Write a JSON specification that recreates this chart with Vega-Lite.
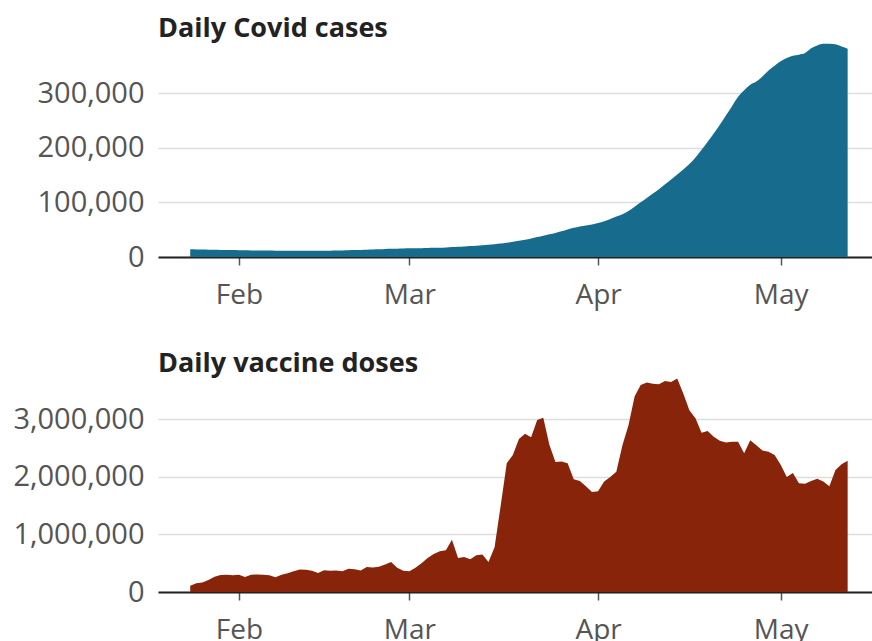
{
  "$schema": "https://vega.github.io/schema/vega-lite/v6.json",
  "padding": {"left": 12, "top": 15, "right": 0, "bottom": 0},
  "background": "white",
  "spacing": 41,
  "config": {
    "font": "Open Sans",
    "view": {"stroke": null},
    "title": {"font": "Open Sans", "fontSize": 27, "fontWeight": "bold", "color": "#222222", "anchor": "start", "frame": "group"},
    "axisY": {"domain": false, "ticks": false, "labelFont": "Open Sans", "labelFontSize": 29, "labelColor": "#555555", "labelPadding": 14, "gridColor": "#dddddd", "gridWidth": 1.3, "title": null},
    "axisX": {"grid": false, "domainColor": "#222222", "domainWidth": 2, "tickColor": "#555555", "tickSize": 8, "tickWidth": 1.5, "labelFont": "Open Sans", "labelFontSize": 28, "labelColor": "#555555", "labelPadding": 16, "title": null}
  },
  "datasets": {
    "cases": [
      {"date": "2021-01-24", "v": 14000}, {"date": "2021-01-25", "v": 13800}, {"date": "2021-01-26", "v": 13600}, {"date": "2021-01-27", "v": 13400}, {"date": "2021-01-28", "v": 13200}, {"date": "2021-01-29", "v": 13000}, {"date": "2021-01-30", "v": 12900}, {"date": "2021-01-31", "v": 12600},
      {"date": "2021-02-01", "v": 12400}, {"date": "2021-02-02", "v": 12200}, {"date": "2021-02-03", "v": 12000}, {"date": "2021-02-04", "v": 11900}, {"date": "2021-02-05", "v": 11800}, {"date": "2021-02-06", "v": 11700}, {"date": "2021-02-07", "v": 11600}, {"date": "2021-02-08", "v": 11500}, {"date": "2021-02-09", "v": 11400}, {"date": "2021-02-10", "v": 11300}, {"date": "2021-02-11", "v": 11300}, {"date": "2021-02-12", "v": 11300}, {"date": "2021-02-13", "v": 11400}, {"date": "2021-02-14", "v": 11400}, {"date": "2021-02-15", "v": 11500}, {"date": "2021-02-16", "v": 11600}, {"date": "2021-02-17", "v": 11800}, {"date": "2021-02-18", "v": 12000}, {"date": "2021-02-19", "v": 12300}, {"date": "2021-02-20", "v": 12600}, {"date": "2021-02-21", "v": 13000}, {"date": "2021-02-22", "v": 13300}, {"date": "2021-02-23", "v": 13600}, {"date": "2021-02-24", "v": 14000}, {"date": "2021-02-25", "v": 14500}, {"date": "2021-02-26", "v": 14900}, {"date": "2021-02-27", "v": 15300}, {"date": "2021-02-28", "v": 15600},
      {"date": "2021-03-01", "v": 15800}, {"date": "2021-03-02", "v": 15900}, {"date": "2021-03-03", "v": 16000}, {"date": "2021-03-04", "v": 16300}, {"date": "2021-03-05", "v": 16700}, {"date": "2021-03-06", "v": 17100}, {"date": "2021-03-07", "v": 17600}, {"date": "2021-03-08", "v": 18100}, {"date": "2021-03-09", "v": 18600}, {"date": "2021-03-10", "v": 19200}, {"date": "2021-03-11", "v": 19900}, {"date": "2021-03-12", "v": 20600}, {"date": "2021-03-13", "v": 21400}, {"date": "2021-03-14", "v": 22300}, {"date": "2021-03-15", "v": 23300}, {"date": "2021-03-16", "v": 24500}, {"date": "2021-03-17", "v": 26000}, {"date": "2021-03-18", "v": 27700}, {"date": "2021-03-19", "v": 29600}, {"date": "2021-03-20", "v": 31600}, {"date": "2021-03-21", "v": 34000}, {"date": "2021-03-22", "v": 36500}, {"date": "2021-03-23", "v": 39000}, {"date": "2021-03-24", "v": 41500}, {"date": "2021-03-25", "v": 44000}, {"date": "2021-03-26", "v": 47000}, {"date": "2021-03-27", "v": 50500}, {"date": "2021-03-28", "v": 53500}, {"date": "2021-03-29", "v": 56000}, {"date": "2021-03-30", "v": 57500}, {"date": "2021-03-31", "v": 59500},
      {"date": "2021-04-01", "v": 62000}, {"date": "2021-04-02", "v": 65500}, {"date": "2021-04-03", "v": 69500}, {"date": "2021-04-04", "v": 74000}, {"date": "2021-04-05", "v": 78000}, {"date": "2021-04-06", "v": 84000}, {"date": "2021-04-07", "v": 92000}, {"date": "2021-04-08", "v": 100000}, {"date": "2021-04-09", "v": 108000}, {"date": "2021-04-10", "v": 116000}, {"date": "2021-04-11", "v": 124000}, {"date": "2021-04-12", "v": 133000}, {"date": "2021-04-13", "v": 142000}, {"date": "2021-04-14", "v": 151000}, {"date": "2021-04-15", "v": 160000}, {"date": "2021-04-16", "v": 170000}, {"date": "2021-04-17", "v": 182000}, {"date": "2021-04-18", "v": 196000}, {"date": "2021-04-19", "v": 211000}, {"date": "2021-04-20", "v": 226000}, {"date": "2021-04-21", "v": 242000}, {"date": "2021-04-22", "v": 259000}, {"date": "2021-04-23", "v": 276000}, {"date": "2021-04-24", "v": 293000}, {"date": "2021-04-25", "v": 305000}, {"date": "2021-04-26", "v": 315000}, {"date": "2021-04-27", "v": 321000}, {"date": "2021-04-28", "v": 330000}, {"date": "2021-04-29", "v": 341000}, {"date": "2021-04-30", "v": 350000},
      {"date": "2021-05-01", "v": 358000}, {"date": "2021-05-02", "v": 364000}, {"date": "2021-05-03", "v": 368000}, {"date": "2021-05-04", "v": 370000}, {"date": "2021-05-05", "v": 373000}, {"date": "2021-05-06", "v": 382000}, {"date": "2021-05-07", "v": 387000}, {"date": "2021-05-08", "v": 390000}, {"date": "2021-05-09", "v": 390000}, {"date": "2021-05-10", "v": 389000}, {"date": "2021-05-11", "v": 385000}, {"date": "2021-05-12", "v": 381000}
    ],
    "doses": [
      {"date": "2021-01-24", "v": 110000}, {"date": "2021-01-25", "v": 150000}, {"date": "2021-01-26", "v": 165000}, {"date": "2021-01-27", "v": 210000}, {"date": "2021-01-28", "v": 265000}, {"date": "2021-01-29", "v": 295000}, {"date": "2021-01-30", "v": 300000}, {"date": "2021-01-31", "v": 290000},
      {"date": "2021-02-01", "v": 300000}, {"date": "2021-02-02", "v": 260000}, {"date": "2021-02-03", "v": 300000}, {"date": "2021-02-04", "v": 305000}, {"date": "2021-02-05", "v": 300000}, {"date": "2021-02-06", "v": 290000}, {"date": "2021-02-07", "v": 255000}, {"date": "2021-02-08", "v": 300000}, {"date": "2021-02-09", "v": 325000}, {"date": "2021-02-10", "v": 360000}, {"date": "2021-02-11", "v": 390000}, {"date": "2021-02-12", "v": 385000}, {"date": "2021-02-13", "v": 370000}, {"date": "2021-02-14", "v": 330000}, {"date": "2021-02-15", "v": 380000}, {"date": "2021-02-16", "v": 368000}, {"date": "2021-02-17", "v": 372000}, {"date": "2021-02-18", "v": 362000}, {"date": "2021-02-19", "v": 405000}, {"date": "2021-02-20", "v": 395000}, {"date": "2021-02-21", "v": 372000}, {"date": "2021-02-22", "v": 435000}, {"date": "2021-02-23", "v": 425000}, {"date": "2021-02-24", "v": 440000}, {"date": "2021-02-25", "v": 480000}, {"date": "2021-02-26", "v": 520000}, {"date": "2021-02-27", "v": 420000}, {"date": "2021-02-28", "v": 370000},
      {"date": "2021-03-01", "v": 360000}, {"date": "2021-03-02", "v": 420000}, {"date": "2021-03-03", "v": 500000}, {"date": "2021-03-04", "v": 590000}, {"date": "2021-03-05", "v": 660000}, {"date": "2021-03-06", "v": 710000}, {"date": "2021-03-07", "v": 725000}, {"date": "2021-03-08", "v": 910000}, {"date": "2021-03-09", "v": 590000}, {"date": "2021-03-10", "v": 610000}, {"date": "2021-03-11", "v": 570000}, {"date": "2021-03-12", "v": 640000}, {"date": "2021-03-13", "v": 650000}, {"date": "2021-03-14", "v": 520000}, {"date": "2021-03-15", "v": 780000}, {"date": "2021-03-16", "v": 1500000}, {"date": "2021-03-17", "v": 2240000}, {"date": "2021-03-18", "v": 2380000}, {"date": "2021-03-19", "v": 2660000}, {"date": "2021-03-20", "v": 2750000}, {"date": "2021-03-21", "v": 2690000}, {"date": "2021-03-22", "v": 2990000}, {"date": "2021-03-23", "v": 3030000}, {"date": "2021-03-24", "v": 2560000}, {"date": "2021-03-25", "v": 2260000}, {"date": "2021-03-26", "v": 2270000}, {"date": "2021-03-27", "v": 2240000}, {"date": "2021-03-28", "v": 1960000}, {"date": "2021-03-29", "v": 1930000}, {"date": "2021-03-30", "v": 1840000}, {"date": "2021-03-31", "v": 1740000},
      {"date": "2021-04-01", "v": 1750000}, {"date": "2021-04-02", "v": 1920000}, {"date": "2021-04-03", "v": 2000000}, {"date": "2021-04-04", "v": 2090000}, {"date": "2021-04-05", "v": 2550000}, {"date": "2021-04-06", "v": 2900000}, {"date": "2021-04-07", "v": 3400000}, {"date": "2021-04-08", "v": 3600000}, {"date": "2021-04-09", "v": 3640000}, {"date": "2021-04-10", "v": 3620000}, {"date": "2021-04-11", "v": 3610000}, {"date": "2021-04-12", "v": 3670000}, {"date": "2021-04-13", "v": 3650000}, {"date": "2021-04-14", "v": 3710000}, {"date": "2021-04-15", "v": 3450000}, {"date": "2021-04-16", "v": 3160000}, {"date": "2021-04-17", "v": 3020000}, {"date": "2021-04-18", "v": 2770000}, {"date": "2021-04-19", "v": 2800000}, {"date": "2021-04-20", "v": 2700000}, {"date": "2021-04-21", "v": 2630000}, {"date": "2021-04-22", "v": 2600000}, {"date": "2021-04-23", "v": 2610000}, {"date": "2021-04-24", "v": 2610000}, {"date": "2021-04-25", "v": 2410000}, {"date": "2021-04-26", "v": 2640000}, {"date": "2021-04-27", "v": 2550000}, {"date": "2021-04-28", "v": 2460000}, {"date": "2021-04-29", "v": 2440000}, {"date": "2021-04-30", "v": 2380000},
      {"date": "2021-05-01", "v": 2210000}, {"date": "2021-05-02", "v": 2000000}, {"date": "2021-05-03", "v": 2070000}, {"date": "2021-05-04", "v": 1890000}, {"date": "2021-05-05", "v": 1880000}, {"date": "2021-05-06", "v": 1930000}, {"date": "2021-05-07", "v": 1970000}, {"date": "2021-05-08", "v": 1920000}, {"date": "2021-05-09", "v": 1840000}, {"date": "2021-05-10", "v": 2120000}, {"date": "2021-05-11", "v": 2220000}, {"date": "2021-05-12", "v": 2280000}
    ]
  },
  "vconcat": [
    {
      "title": {"text": "Daily Covid cases", "offset": 0},
      "width": 714,
      "height": 214,
      "data": {"name": "cases"},
      "mark": {"type": "area", "color": "#176c8d", "interpolate": "monotone"},
      "encoding": {
        "x": {"field": "date", "type": "temporal", "scale": {"type": "utc", "domain": [{"year": 2021, "month": 1, "date": 18, "hours": 17, "utc": true}, {"year": 2021, "month": 5, "date": 16, "utc": true}]}, "axis": {"format": "%b", "values": [{"year": 2021, "month": 2, "date": 1, "utc": true}, {"year": 2021, "month": 3, "date": 1, "utc": true}, {"year": 2021, "month": 4, "date": 1, "utc": true}, {"year": 2021, "month": 5, "date": 1, "utc": true}]}},
        "y": {"field": "v", "type": "quantitative", "scale": {"domain": [0, 391500], "nice": false}, "axis": {"format": ",.0f", "values": [0, 100000, 200000, 300000]}}
      }
    },
    {
      "title": {"text": "Daily vaccine doses", "offset": 0},
      "width": 714,
      "height": 214,
      "data": {"name": "doses"},
      "mark": {"type": "area", "color": "#882409"},
      "encoding": {
        "x": {"field": "date", "type": "temporal", "scale": {"type": "utc", "domain": [{"year": 2021, "month": 1, "date": 18, "hours": 17, "utc": true}, {"year": 2021, "month": 5, "date": 16, "utc": true}]}, "axis": {"format": "%b", "values": [{"year": 2021, "month": 2, "date": 1, "utc": true}, {"year": 2021, "month": 3, "date": 1, "utc": true}, {"year": 2021, "month": 4, "date": 1, "utc": true}, {"year": 2021, "month": 5, "date": 1, "utc": true}]}},
        "y": {"field": "v", "type": "quantitative", "scale": {"domain": [0, 3720000], "nice": false}, "axis": {"format": ",.0f", "values": [0, 1000000, 2000000, 3000000]}}
      }
    }
  ]
}
